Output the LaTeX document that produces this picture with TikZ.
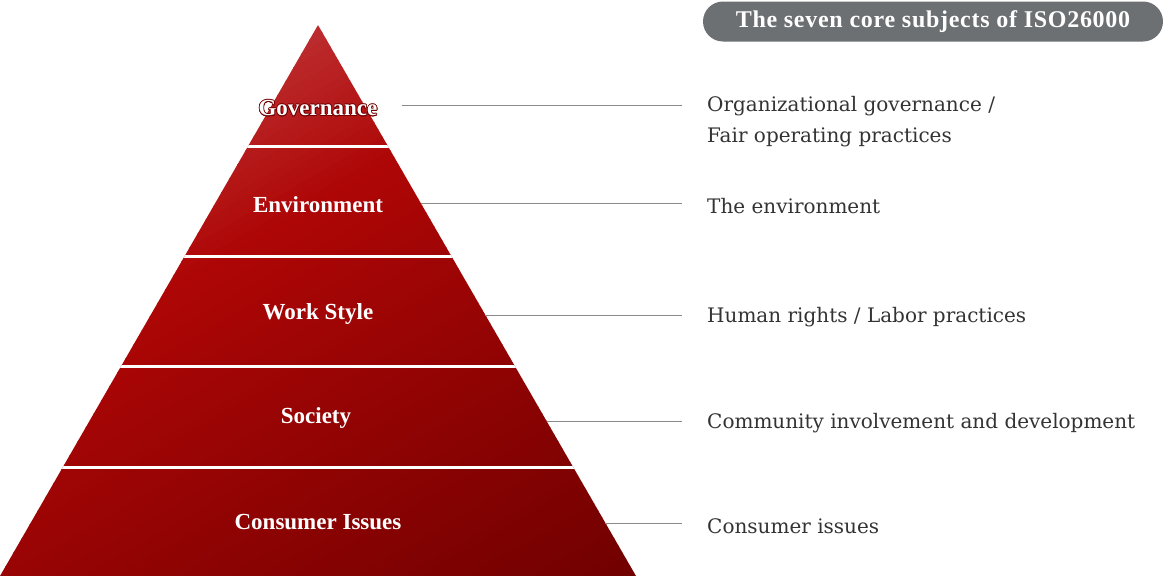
\documentclass[tikz,border=0pt]{standalone}
\usepackage{fontspec}
\usepackage{contour}
\setmainfont{DejaVu Serif}
\newfontfamily\tierfont{Liberation Serif}
\usetikzlibrary{positioning}
\definecolor{pyrA}{HTML}{BC2C2E}
\definecolor{pyrB}{HTML}{AE0606}
\definecolor{pyrC}{HTML}{700000}
\definecolor{boxgray}{HTML}{6C7072}
\definecolor{txtgray}{HTML}{333333}
\definecolor{lngray}{HTML}{8A8A8A}
\contourlength{0.7pt}
\tikzset{tier/.style = {text=white, font=\tierfont\bfseries\fontsize{23}{23}\selectfont}}
\tikzset{subj/.style = {anchor=west, inner sep=0, text=txtgray, align=left,
    font=\fontsize{20}{31}\selectfont}}
\tikzset{conn/.style = {draw=lngray, line width=1pt}}
\tikzset{sep/.style = {draw=white, line width=3pt}}

\begin{document}
\begin{tikzpicture}[x=1pt, y=-1pt]
    \useasboundingbox (0,0) rectangle (1163,576);

    % pyramid, shaded in slanted strips
    \begin{scope}
      \clip (0,576) -- (318,25) -- (636,576) -- cycle;
      \foreach \i in {0,...,79} {
        \pgfmathsetmacro{\p}{181+8*\i}
        \pgfmathsetmacro{\t}{min(100, \p<330 ? (\p-181)/149*100 : (\p-330)/489*100)}
        \ifdim\p pt<330pt \colorlet{band}{pyrB!\t!pyrA}\else\colorlet{band}{pyrC!\t!pyrB}\fi
        \fill[band, rotate=-60] (\p,-1000) rectangle (\p+8.6,1000);
      }
      \foreach \y in {146,256,366,467}
        \draw[sep] (0,\y) -- (636,\y);
    \end{scope}

    \node [tier] (gov)  at (318,108.5) {\contour{pyrC}{Governance}};
    \node [tier] (env)  at (318,205) {Environment};
    \node [tier] (work) at (318,313.5) {Work Style};
    \node [tier] (soc)  at (316,417.5) {Society};
    \node [tier] (cons) at (318,522) {Consumer Issues};

    % title
    \node [fill=boxgray, rounded corners=20pt, minimum width=460pt, minimum height=40pt,
      text=white, font=\tierfont\bfseries\fontsize{24}{24}\selectfont\addfontfeatures{LetterSpace=3}] (title)
      at (933,21.5) {\raisebox{-2pt}{The seven core subjects of ISO26000}};

    % subjects
    \node [subj] (govT)  at (707,121.5) {Organizational governance /\\Fair operating practices};
    \node [subj] (envT)  at (707,206) {The environment};
    \node [subj] (workT) at (707,317) {Human rights / Labor practices};
    \node [subj] (socT)  at (707,423) {Community involvement and development};
    \node [subj] (consT) at (707,526) {Consumer issues};

    \coordinate (govA)  at (402,105);   \coordinate (govB)  at (682,105);
    \coordinate (envA)  at (420.7,203); \coordinate (envB)  at (682,203);
    \coordinate (workA) at (485.4,315); \coordinate (workB) at (682,315);
    \coordinate (socA)  at (546.5,421); \coordinate (socB)  at (682,421);
    \coordinate (consA) at (605.4,523); \coordinate (consB) at (682,523);

    \draw[conn] (govA) -- (govB);
    \draw[conn] (envA) -- (envB);
    \draw[conn] (workA) -- (workB);
    \draw[conn] (socA) -- (socB);
    \draw[conn] (consA) -- (consB);
\end{tikzpicture}
\end{document}
